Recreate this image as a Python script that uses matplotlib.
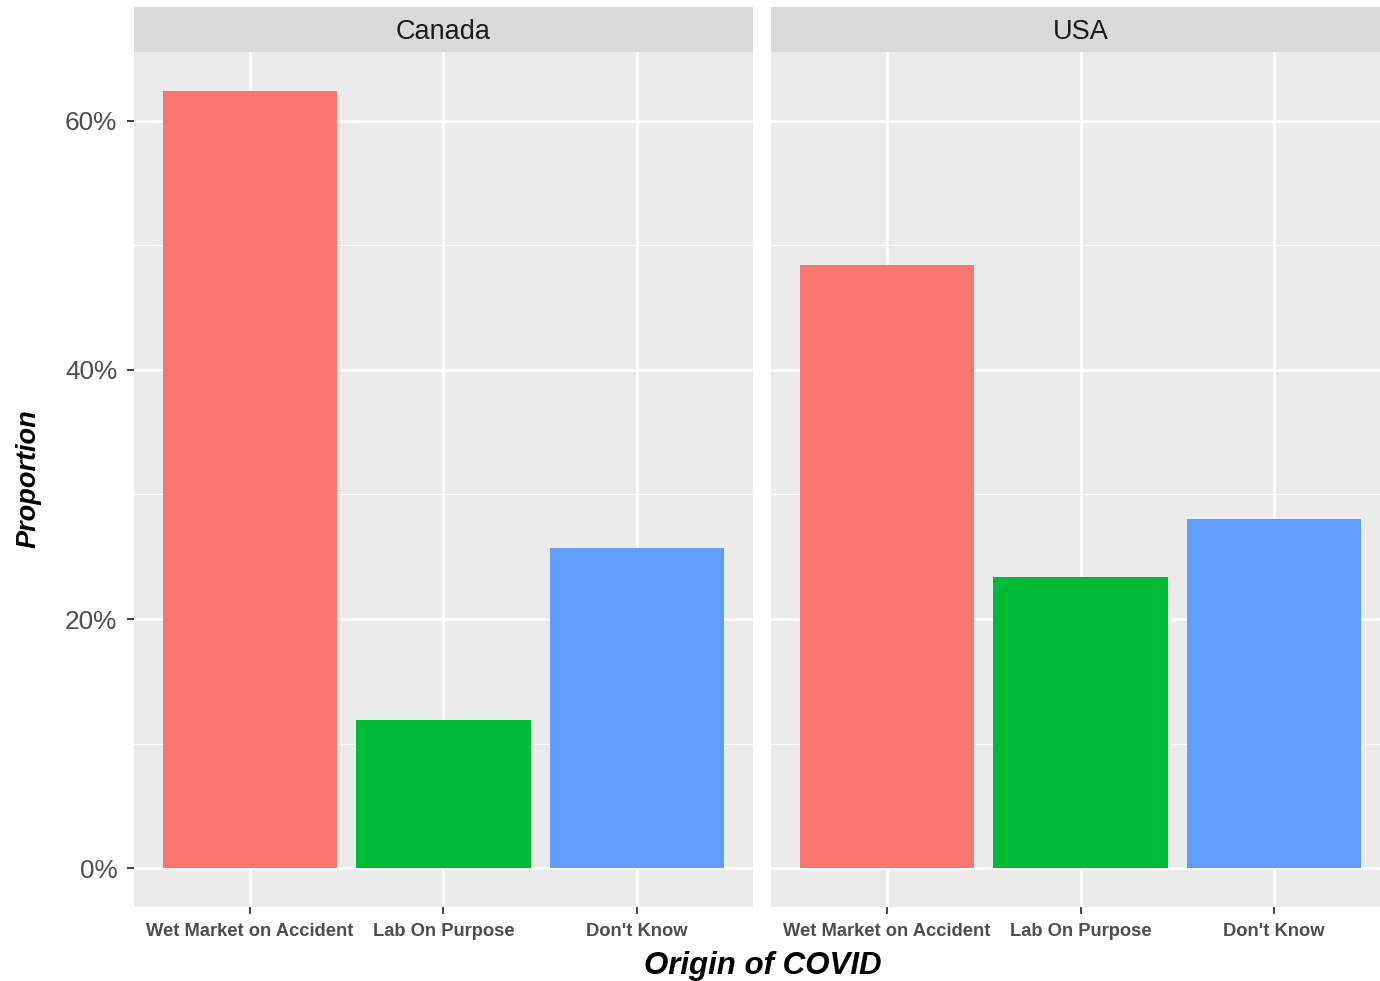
import numpy as np
import matplotlib
matplotlib.use("Agg")
import matplotlib.pyplot as plt
from matplotlib.ticker import FuncFormatter, FixedLocator

countries = ["Canada", "USA"]
origins = ["Wet Market on Accident", "Lab On Purpose", "Don't Know"]
canada_pct = [62.4, 11.9, 25.7]
usa_pct = [48.4, 23.4, 28.0]
bar_colors = ["#F8766D", "#00BA38", "#619CFF"]
y_major = [0, 20, 40, 60]
y_minor = [10, 30, 50]

plt.rcParams["font.family"] = ["Liberation Sans", "DejaVu Sans"]

W, H = 1380, 981
fig = plt.figure(figsize=(W / 100, H / 100), dpi=100)

# panel geometry in pixels (ggplot-like facet layout)
panel_lefts = [134, 771]
panel_w = 619
panel_top, panel_bot = 52, 907
strip_top = 7

all_vals = canada_pct + usa_pct
ymax = max(all_vals)
pad = 0.05 * ymax
ylim = (0 - pad, ymax + pad)
xpos = np.arange(1, len(origins) + 1)

for i, (country, vals) in enumerate(zip(countries, [canada_pct, usa_pct])):
    left = panel_lefts[i] / W
    ax = fig.add_axes([left, 1 - panel_bot / H, panel_w / W, (panel_bot - panel_top) / H])
    ax.set_facecolor("#EBEBEB")
    ax.bar(xpos, vals, width=0.9, color=bar_colors, zorder=3)
    ax.set_xlim(0.4, len(origins) + 0.6)
    ax.set_ylim(*ylim)
    ax.yaxis.set_major_locator(FixedLocator(y_major))
    ax.yaxis.set_minor_locator(FixedLocator(y_minor))
    ax.set_xticks(xpos)
    ax.set_xticklabels(origins, fontsize=13.2, fontweight="bold", color="#4D4D4D")
    ax.yaxis.set_major_formatter(FuncFormatter(lambda v, p: f"{v:.0f}%"))
    ax.grid(which="major", color="white", lw=1.9, zorder=1)
    ax.grid(which="minor", axis="y", color="white", lw=0.9, zorder=1)
    ax.set_axisbelow(True)
    for s in ax.spines.values():
        s.set_visible(False)
    ax.tick_params(axis="x", length=5, width=1.3, color="#333333", pad=6.5)
    ax.tick_params(axis="y", which="major", length=5, width=1.3, color="#333333",
                   pad=7, labelsize=18.8, labelcolor="#4D4D4D")
    ax.tick_params(axis="y", which="minor", length=0)
    if i > 0:
        ax.tick_params(axis="y", which="major", left=False, labelleft=False)

    # facet strip
    sax = fig.add_axes([left, 1 - panel_top / H, panel_w / W, (panel_top - strip_top) / H])
    sax.set_facecolor("#D9D9D9")
    sax.set_xticks([])
    sax.set_yticks([])
    for s in sax.spines.values():
        s.set_visible(False)
    sax.text(0.5, 0.44, country, ha="center", va="center", fontsize=19.5,
             color="#1A1A1A", transform=sax.transAxes)

fig.text(763 / W, 1 - 966 / H, "Origin of COVID", ha="center", va="center",
         fontsize=22.5, fontweight="bold", fontstyle="italic")
fig.text(29 / W, 1 - 479 / H, "Proportion", ha="center", va="center",
         rotation=90, fontsize=19.5, fontweight="bold", fontstyle="italic")

fig.savefig("out.png", dpi=100)
